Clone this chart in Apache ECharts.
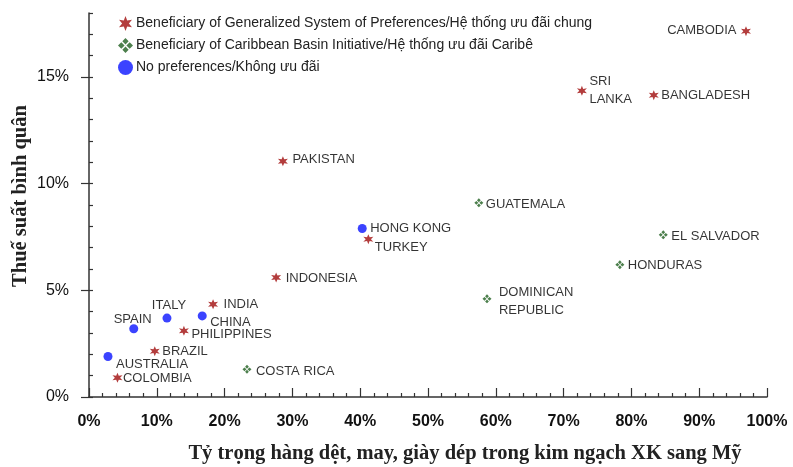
<!DOCTYPE html>
<html>
<head>
<meta charset="utf-8">
<script src="https://cdn.jsdelivr.net/npm/echarts@6/dist/echarts.min.js"></script>
<style>html,body{margin:0;padding:0;background:#fff}#c{width:793px;height:467px}</style>
</head>
<body>
<div id="c"></div>
<script>
// ---- data ----
const seriesNames = [
  'Beneficiary of Generalized System of Preferences/Hệ thống ưu đãi chung',
  'Beneficiary of Caribbean Basin Initiative/Hệ thống ưu đãi Caribê',
  'No preferences/Không ưu đãi'
];
const gspCountries = ['CAMBODIA','SRI\nLANKA','BANGLADESH','PAKISTAN','TURKEY','INDONESIA','INDIA','PHILIPPINES','BRAZIL','COLOMBIA'];
const gspShare     = [96.9, 72.7, 83.3, 28.6, 41.2, 27.6, 18.3, 14.0, 9.7, 4.2];
const gspTariff    = [17.15, 14.35, 14.15, 11.05, 7.4, 5.6, 4.35, 3.1, 2.15, 0.9];

const cbiCountries = ['GUATEMALA','EL SALVADOR','HONDURAS','DOMINICAN\nREPUBLIC','COSTA RICA'];
const cbiShare     = [57.5, 84.7, 78.3, 58.7, 23.3];
const cbiTariff    = [9.1, 7.6, 6.2, 4.6, 1.3];

const nopCountries = ['HONG KONG','ITALY','CHINA','SPAIN','AUSTRALIA'];
const nopShare     = [40.3, 11.5, 16.7, 6.6, 2.8];
const nopTariff    = [7.9, 3.7, 3.8, 3.2, 1.9];

const xTicks = [0,10,20,30,40,50,60,70,80,90,100];
const yTicks = [0,5,10,15];
const xAxisTitle = 'Tỷ trọng hàng dệt, may, giày dép trong kim ngạch XK sang Mỹ';
const yAxisTitle = 'Thuế suất bình quân';

// ---- label placement (style) ----
const labelPlace = {
  'CAMBODIA': [-9, 0, 'right'],
  'SRI\nLANKA': [8, 0, 'left'],
  'BANGLADESH': [8, 1, 'left'],
  'PAKISTAN': [10, -1, 'left'],
  'TURKEY': [7, 9, 'left'],
  'INDONESIA': [10, 1, 'left'],
  'INDIA': [11, 1, 'left'],
  'PHILIPPINES': [8, 4, 'left'],
  'BRAZIL': [8, 1, 'left'],
  'COLOMBIA': [6, 1, 'left'],
  'GUATEMALA': [7, 2, 'left'],
  'EL SALVADOR': [8, 2, 'left'],
  'HONDURAS': [8, 1, 'left'],
  'DOMINICAN\nREPUBLIC': [12, 3, 'left'],
  'COSTA RICA': [9, 2, 'left'],
  'HONG KONG': [8, 0, 'left'],
  'ITALY': [2, -13, 'center'],
  'CHINA': [8, 6, 'left'],
  'SPAIN': [18, -9, 'right'],
  'AUSTRALIA': [8, 8, 'left']
};

const STAR = 'path://M0 -10 L2.25 -3.9 L8.66 -5 L4.5 0 L8.66 5 L2.25 3.9 L0 10 L-2.25 3.9 L-8.66 5 L-4.5 0 L-8.66 -5 L-2.25 -3.9 Z';
const QUAD = 'path://M0 -10 L4.2 -5.6 L0 -1.2 L-4.2 -5.6 Z M10 0 L5.6 4.2 L1.2 0 L5.6 -4.2 Z M0 10 L4.2 5.6 L0 1.2 L-4.2 5.6 Z M-10 0 L-5.6 4.2 L-1.2 0 L-5.6 -4.2 Z';

const SYM = 9;
function buildData(names, xs, ys) {
  return names.map((n, i) => {
    const p = labelPlace[n] || [8, 0, 'left'];
    return {
      name: n,
      value: [xs[i], ys[i]],
      label: {
        position: [SYM / 2 + p[0], SYM / 2 + p[1]],
        align: p[2],
        verticalAlign: 'middle'
      }
    };
  });
}

const labelStyle = {
  show: true,
  formatter: (p) => p.name,
  color: '#000',
  fontFamily: 'Liberation Sans, Arial, sans-serif',
  fontSize: 13,
  lineHeight: 18
};

const chart = echarts.init(document.getElementById('c'), null, {renderer: 'canvas'});
chart.setOption({
  animation: false,
  backgroundColor: '#fff',
  grid: {left: 89, right: 26, top: 13, bottom: 70, containLabel: false, outerBoundsMode: 'none'},
  legend: {
    orient: 'vertical',
    left: 113,
    top: 11,
    itemWidth: 15,
    itemHeight: 15,
    itemGap: 7,
    selectedMode: false,
    textStyle: {fontFamily: 'Liberation Sans, Arial, sans-serif', fontSize: 14, color: '#222', padding: [0,0,0,-2]},
    data: seriesNames
  },
  xAxis: {
    type: 'value',
    min: 0, max: 100, interval: 10,
    axisLine: {show: true, lineStyle: {color: '#333', width: 1.5}},
    axisTick: {show: true, inside: true, length: 9, lineStyle: {color: '#333', width: 1.2}},
    minorTick: {show: true, splitNumber: 5, length: 4, lineStyle: {color: '#333', width: 1.2}},
    splitLine: {show: false},
    axisLabel: {
      formatter: (v) => xTicks.includes(v) ? v + '%' : '',
      fontFamily: 'Liberation Sans, Arial, sans-serif', fontWeight: 'bold', fontSize: 16, color: '#111', margin: 17
    },
    name: xAxisTitle,
    nameLocation: 'middle',
    nameGap: 46,
    nameTextStyle: {fontFamily: 'Liberation Serif, Times New Roman, serif', fontWeight: 'bold', fontSize: 20.5, color: '#222', padding: [0,0,0,74]}
  },
  yAxis: [
    {
      type: 'value',
      min: 0, max: 18, interval: 5,
      axisLine: {show: true, lineStyle: {color: '#333', width: 1.5}},
      axisTick: {show: true, inside: false, length: 8, lineStyle: {color: '#333', width: 1.2}},
      minorTick: {show: false},
      splitLine: {show: false},
      axisLabel: {
        formatter: (v) => yTicks.includes(v) ? v + '%' : '',
        showMaxLabel: false,
        fontFamily: 'Liberation Sans, Arial, sans-serif', fontSize: 16, color: '#111', margin: 20
      },
      name: yAxisTitle,
      nameLocation: 'middle',
      nameGap: 58,
      nameMoveOverlap: false,
      nameTextStyle: {fontFamily: 'Liberation Serif, Times New Roman, serif', fontWeight: 'bold', fontSize: 20.5, color: '#222', padding: [0,0,0,18]}
    },
    {
      type: 'value',
      position: 'left',
      offset: 0,
      min: 0, max: 18, interval: 1,
      axisLine: {show: false},
      axisTick: {show: true, inside: true, length: 4, lineStyle: {color: '#333', width: 1.2}},
      minorTick: {show: false},
      splitLine: {show: false},
      axisLabel: {show: false}
    }
  ],
  series: [
    {
      name: seriesNames[0], type: 'scatter', yAxisIndex: 0,
      symbol: STAR, symbolSize: SYM + 1,
      itemStyle: {color: '#a00d0d'},
      label: labelStyle,
      data: buildData(gspCountries, gspShare, gspTariff)
    },
    {
      name: seriesNames[1], type: 'scatter', yAxisIndex: 0,
      symbol: QUAD, symbolSize: SYM,
      itemStyle: {color: '#1f5f1f'},
      label: labelStyle,
      data: buildData(cbiCountries, cbiShare, cbiTariff)
    },
    {
      name: seriesNames[2], type: 'scatter', yAxisIndex: 0,
      symbol: 'circle', symbolSize: SYM,
      itemStyle: {color: '#0a14ff'},
      label: labelStyle,
      data: buildData(nopCountries, nopShare, nopTariff)
    }
  ]
});
</script>
</body>
</html>
